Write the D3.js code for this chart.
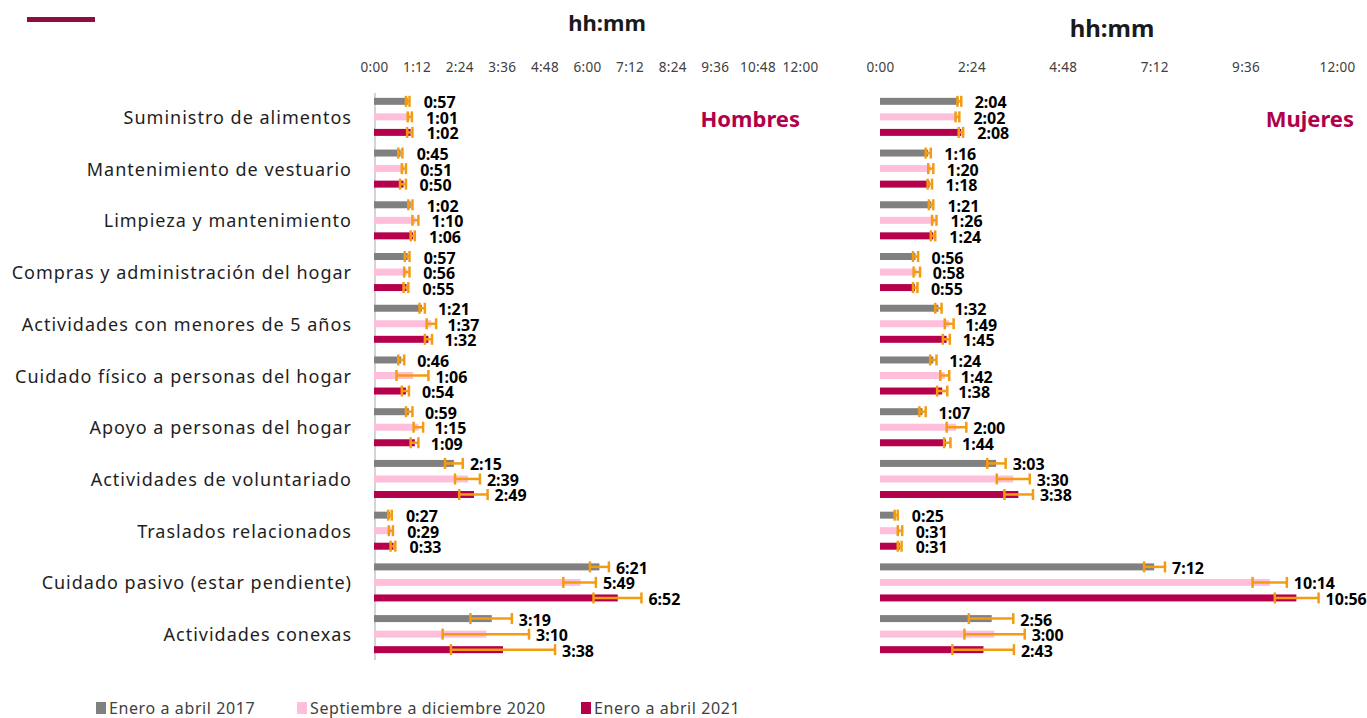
<!DOCTYPE html>
<html>
<head>
<meta charset="utf-8">
<script src="https://cdn.jsdelivr.net/npm/d3@7"></script>
<style>
  body { margin: 0; background: #fff; }
  svg { display: block; font-family: "Noto Sans", sans-serif; }
</style>
</head>
<body>
<svg id="chart" width="1367" height="718"></svg>
<script>
// categorias (eje vertical)
var categories = [
    "Suministro de alimentos",
    "Mantenimiento de vestuario",
    "Limpieza y mantenimiento",
    "Compras y administración del hogar",
    "Actividades con menores de 5 años",
    "Cuidado físico a personas del hogar",
    "Apoyo a personas del hogar",
    "Actividades de voluntariado",
    "Traslados relacionados",
    "Cuidado pasivo (estar pendiente)",
    "Actividades conexas"
];

var series = ["Enero a abril 2017", "Septiembre a diciembre 2020", "Enero a abril 2021"];
var seriesColors = ["#808080", "#FFBFDB", "#B5004B"];

// valores en minutos
var hombres2017 = [57, 45, 62, 57, 81, 46, 59, 135, 27, 381, 199];
var hombres2020 = [61, 51, 70, 56, 97, 66, 75, 159, 29, 349, 190];
var hombres2021 = [62, 50, 66, 55, 92, 54, 69, 169, 33, 412, 218];

var mujeres2017 = [124, 76, 81, 56, 92, 84, 67, 183, 25, 432, 176];
var mujeres2020 = [122, 80, 86, 58, 109, 102, 120, 210, 31, 614, 180];
var mujeres2021 = [128, 78, 84, 55, 105, 98, 104, 218, 31, 656, 163];

// intervalos (barras de error), en minutos
var hombres2017Lo = [54, 41, 58, 52, 77, 41, 54, 120, 24, 365, 163];
var hombres2017Hi = [60, 48, 65, 60, 86, 51, 65, 150, 30, 397, 233];
var hombres2020Lo = [57, 47, 65, 51, 89, 38, 67, 137, 25, 320, 116];
var hombres2020Hi = [64, 54, 75, 60, 105, 92, 83, 179, 32, 375, 262];
var hombres2021Lo = [56, 44, 62, 50, 86, 47, 62, 144, 28, 371, 130];
var hombres2021Hi = [65, 54, 69, 58, 98, 59, 75, 192, 36, 452, 306];

var mujeres2017Lo = [122, 72, 77, 52, 87, 79, 62, 169, 23, 416, 140];
var mujeres2017Hi = [128, 80, 84, 60, 97, 89, 72, 198, 28, 449, 210];
var mujeres2020Lo = [119, 76, 82, 53, 102, 95, 105, 184, 28, 587, 133];
var mujeres2020Hi = [125, 84, 89, 63, 116, 109, 136, 236, 35, 641, 228];
var mujeres2021Lo = [124, 75, 80, 52, 99, 90, 101, 196, 28, 622, 114];
var mujeres2021Hi = [131, 82, 87, 59, 110, 106, 111, 241, 34, 691, 211];

var leftTicks = [0, 72, 144, 216, 288, 360, 432, 504, 576, 648, 720];
var rightTicks = [0, 144, 288, 432, 576, 720];

var orange = "#F39C12";

function hhmm(m) {
    var h = Math.floor(m / 60), mm = Math.round(m - h * 60);
    return h + ":" + (mm < 10 ? "0" : "") + mm;
}

function rows(vals, lo, hi) {
    return categories.map(function (c, i) {
        return { cat: c, value: vals[i], lo: lo[i], hi: hi[i] };
    });
}

var hombres = [
    rows(hombres2017, hombres2017Lo, hombres2017Hi),
    rows(hombres2020, hombres2020Lo, hombres2020Hi),
    rows(hombres2021, hombres2021Lo, hombres2021Hi)
];
var mujeres = [
    rows(mujeres2017, mujeres2017Lo, mujeres2017Hi),
    rows(mujeres2020, mujeres2020Lo, mujeres2020Hi),
    rows(mujeres2021, mujeres2021Lo, mujeres2021Hi)
];

var svg = d3.select("#chart");

// barra decorativa arriba a la izquierda
svg.append("rect")
    .attr("x", 27).attr("y", 17)
    .attr("width", 68).attr("height", 5)
    .attr("fill", "#8E0C3E");

var y0 = d3.scaleBand().domain(categories).range([91, 660]);
var y1 = d3.scaleBand().domain(series).range([0, y0.bandwidth()])
    .paddingInner(0.55).paddingOuter(0.44);

// etiquetas de categoria
svg.append("g")
    .selectAll("text")
    .data(categories)
    .enter()
    .append("text")
    .attr("x", 352)
    .attr("y", function (d) { return y0(d) + y0.bandwidth() / 2; })
    .attr("text-anchor", "end")
    .attr("dominant-baseline", "central")
    .style("font-size", "18px")
    .style("letter-spacing", "1px")
    .style("fill", "#1e1e1e")
    .text(function (d) { return d; });

function panel(data, x, ticks, axisLine, title, titleX, titleY, titleSize, sexo, sexoX, sexoAnchor) {

    svg.append("text")
        .attr("x", titleX).attr("y", titleY)
        .attr("text-anchor", "middle")
        .attr("dominant-baseline", "central")
        .style("font-size", titleSize + "px")
        .style("font-weight", "bold")
        .style("fill", "#1a1a1a")
        .text(title);

    var axis = svg.append("g")
        .attr("transform", "translate(0,72)")
        .call(d3.axisTop(x).tickValues(ticks).tickFormat(hhmm).tickSize(0).tickPadding(0));
    axis.select(".domain").remove();
    axis.selectAll("text")
        .style("font-family", "Noto Sans, sans-serif")
        .style("font-size", "13.5px")
        .style("letter-spacing", "0.3px")
        .style("fill", "#404040");

    if (axisLine) {
        svg.append("line")
            .attr("x1", x(0) + 1).attr("x2", x(0) + 1)
            .attr("y1", 93).attr("y2", 660)
            .attr("stroke", "#d4d4d4").attr("stroke-width", 2);
    }

    data.forEach(function (s, si) {
        var g = svg.append("g");
        var off = y1(series[si]), bw = y1.bandwidth();

        g.selectAll("rect")
            .data(s)
            .enter()
            .append("rect")
            .attr("x", x(0))
            .attr("y", function (d) { return y0(d.cat) + off; })
            .attr("width", function (d) { return x(d.value) - x(0); })
            .attr("height", bw)
            .style("fill", seriesColors[si]);

        var eb = g.selectAll(".err")
            .data(s)
            .enter()
            .append("g")
            .attr("class", "err")
            .attr("transform", function (d) { return "translate(0," + (y0(d.cat) + off + bw / 2) + ")"; });

        eb.append("line")
            .attr("x1", function (d) { return x(d.lo); })
            .attr("x2", function (d) { return x(d.hi); })
            .attr("stroke", orange).attr("stroke-width", 2.5);
        eb.append("line")
            .attr("x1", function (d) { return x(d.lo); })
            .attr("x2", function (d) { return x(d.lo); })
            .attr("y1", -5.5).attr("y2", 5.5)
            .attr("stroke", orange).attr("stroke-width", 2.5);
        eb.append("line")
            .attr("x1", function (d) { return x(d.hi); })
            .attr("x2", function (d) { return x(d.hi); })
            .attr("y1", -5.5).attr("y2", 5.5)
            .attr("stroke", orange).attr("stroke-width", 2.5);

        g.selectAll(".lbl")
            .data(s)
            .enter()
            .append("text")
            .attr("class", "lbl")
            .attr("x", function (d) { return Math.max(x(d.value) + 16, x(d.hi) + 7); })
            .attr("y", function (d) { return y0(d.cat) + off + bw / 2 + 1; })
            .attr("dominant-baseline", "central")
            .style("font-size", "16px")
            .style("font-weight", "bold")
            .style("fill", "#000")
            .text(function (d) { return hhmm(d.value); });
    });

    svg.append("text")
        .attr("x", sexoX).attr("y", 118)
        .attr("text-anchor", sexoAnchor)
        .attr("dominant-baseline", "central")
        .style("font-size", "22px")
        .style("font-weight", "bold")
        .style("fill", "#B0004A")
        .text(sexo);
}

var xLeft = d3.scaleLinear().domain([0, 720]).range([374, 800]);
var xRight = d3.scaleLinear().domain([0, 720]).range([880, 1337]);

panel(hombres, xLeft, leftTicks, true, "hh:mm", 607, 22, 22, "Hombres", 800, "end");
panel(mujeres, xRight, rightTicks, false, "hh:mm", 1112, 27, 24, "Mujeres", 1354, "end");

// leyenda
var legendX = [96, 297, 581];
var legend = svg.append("g")
    .selectAll("g")
    .data(series)
    .enter()
    .append("g")
    .attr("transform", function (d, i) { return "translate(" + legendX[i] + ",702)"; });

legend.append("rect")
    .attr("width", 10).attr("height", 12)
    .style("fill", function (d, i) { return seriesColors[i]; });

legend.append("text")
    .attr("x", 13).attr("y", 6)
    .attr("dominant-baseline", "central")
    .style("font-size", "16px")
    .style("letter-spacing", "0.6px")
    .style("fill", "#404040")
    .text(function (d) { return d; });
</script>
</body>
</html>
